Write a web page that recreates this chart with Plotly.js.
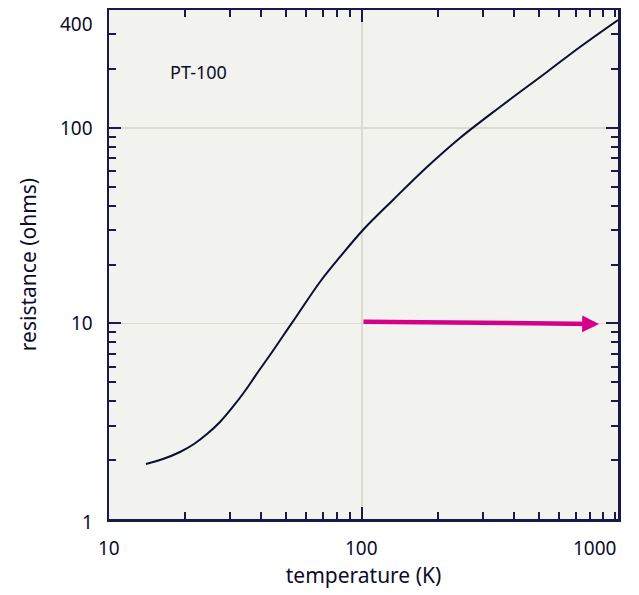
<!DOCTYPE html>
<html>
<head>
<meta charset="utf-8">
<script src="https://cdn.plot.ly/plotly-3.0.1.min.js"></script>
<style>html,body{margin:0;padding:0;background:#fff;}#chart{width:639px;height:595px;}</style>
</head>
<body>
<div id="chart"></div>
<script>
// PT-100 resistance curve
const temperatureK = [14.0, 16.34, 19.08, 21.67, 24.40, 27.46, 30.63, 34.47, 38.81, 43.29, 48.72, 54.84, 68.2, 81.85, 100.9, 132.6, 180.7, 244.0, 351.3, 538.5, 727.3, 1028];
const resistanceOhm = [1.911, 2.026, 2.200, 2.418, 2.720, 3.133, 3.694, 4.511, 5.643, 6.893, 8.621, 10.78, 16.28, 21.85, 30.03, 42.74, 63.0, 88.7, 127.8, 192.9, 258.9, 355.7];

// arrow (start -> end), data coordinates
const arrowStart = {T: 100, R: 10.2};
const arrowEnd = {T: 865, R: 9.93};

const xTickVals = [10, 100, 1000];
const xTickText = ["10", "100", "1000"];
const yTickVals = [1, 10, 100, 400];
const yTickText = ["1", "10", "100", "400"];
const xMajor = [10, 100];
const yMajor = [1, 10, 100];
const xMinor = [20,30,40,50,60,70,80,90,200,300,400,500,600,700,800,900,1000];
const yMinor = [2,3,4,5,6,7,8,9,20,30,40,50,60,70,80,90,200,300];
const seriesLabel = "PT-100";

const navy = "#1a1a4a";
const textCol = "#0c0c2c";
const font = "Noto Sans, Open Sans, sans-serif";

const annotations = [];
xTickVals.forEach((v, i) => {
  const last = i === xTickVals.length - 1;
  annotations.push({x: Math.log10(v), y: 0, xref: "x", yref: "paper", yshift: -29,
    text: xTickText[i], showarrow: false, xanchor: last ? "right" : "center", yanchor: "middle",
    xshift: last ? 3 : 0, font: {family: font, size: 19, color: textCol}});
});
yTickVals.forEach((v, i) => {
  const top = i === yTickVals.length - 1;
  annotations.push({x: 0, y: Math.log10(v), xref: "paper", yref: "y", xshift: -14,
    text: yTickText[i], showarrow: false, xanchor: "right", yanchor: top ? "top" : "middle",
    yshift: top ? 1 : (i === 0 ? -3 : 0), font: {family: font, size: 19, color: textCol}});
});
annotations.push({x: 0.176, y: 0.878, xref: "paper", yref: "paper", text: seriesLabel, showarrow: false,
  xanchor: "center", yanchor: "middle", font: {family: font, size: 18, color: textCol}});
annotations.push({x: Math.log10(arrowEnd.T), y: Math.log10(arrowEnd.R), xref: "x", yref: "y",
  ax: Math.log10(arrowStart.T), ay: Math.log10(arrowStart.R), axref: "x", ayref: "y",
  text: "", showarrow: true, arrowhead: 2, arrowsize: 0.75, arrowwidth: 4.5, arrowcolor: "#d4008c", standoff: 0});

const trace = {x: temperatureK, y: resistanceOhm, type: "scatter", mode: "lines",
  line: {color: "#0a0f30", width: 2, shape: "spline", smoothing: 1}, hoverinfo: "skip"};

const axisCommon = {
  type: "log", showline: true, linecolor: navy, linewidth: 2.5, mirror: "ticks",
  ticks: "inside", ticklen: 12, tickwidth: 2, tickcolor: navy, showticklabels: false,
  gridcolor: "#dcdcce", gridwidth: 1.5, zeroline: false, tickmode: "array"
};

const layout = {
  width: 639, height: 595,
  margin: {l: 109, r: 21, t: 10, b: 76},
  paper_bgcolor: "#ffffff", plot_bgcolor: "#f2f2ee",
  showlegend: false,
  xaxis: Object.assign({}, axisCommon, {range: [1, Math.log10(1028)], tickvals: xMajor,
    minor: {tickmode: "array", tickvals: xMinor, ticks: "inside", ticklen: 7, tickwidth: 2, tickcolor: navy, showgrid: false},
    title: {text: "temperature (K)", standoff: 48, font: {family: font, size: 21, color: textCol}}}),
  yaxis: Object.assign({}, axisCommon, {range: [0, Math.log10(400)], tickvals: yMajor,
    minor: {tickmode: "array", tickvals: yMinor, ticks: "inside", ticklen: 7, tickwidth: 2, tickcolor: navy, showgrid: false},
    title: {text: "resistance (ohms)", standoff: 64, font: {family: font, size: 21, color: textCol}}}),
  annotations: annotations
};

Plotly.newPlot("chart", [trace], layout, {displayModeBar: false, staticPlot: true});
</script>
</body>
</html>
